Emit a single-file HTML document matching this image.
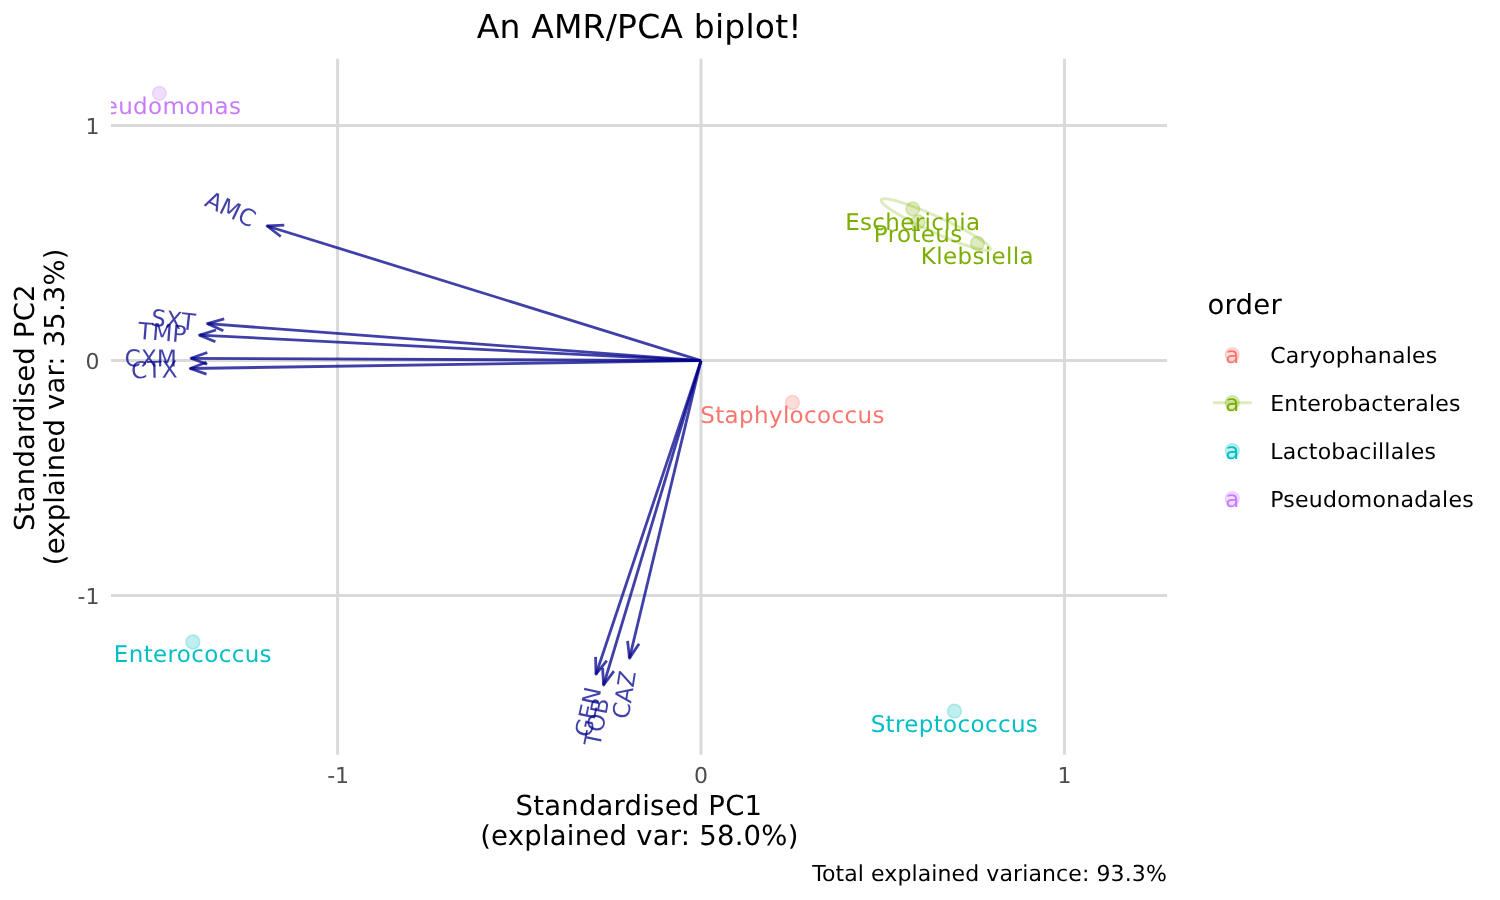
<!DOCTYPE html>
<html lang="en">
<head>
<meta charset="utf-8">
<title>An AMR/PCA biplot!</title>
<style>
html,body{margin:0;padding:0;background:#fff;}
body{width:1500px;height:900px;overflow:hidden;}
svg{display:block;}
text{font-family:"DejaVu Sans","Liberation Sans",sans-serif;text-rendering:geometricPrecision;}
.grid line{stroke:#dadada;stroke-width:3;}
.tick{font-size:22px;fill:#4d4d4d;}
.axt{font-size:27.5px;fill:#000;}
.pts circle{fill-opacity:.25;stroke-opacity:.25;stroke-width:1.5;}
.lab text{font-size:23px;text-anchor:middle;letter-spacing:.35px;}
.arr path{stroke:#00008b;stroke-opacity:.75;stroke-width:2.8;fill:none;stroke-linecap:butt;stroke-linejoin:round;}
.al text{font-size:23.3px;fill:#00008b;fill-opacity:.75;text-anchor:end;}
.leg{font-size:22px;fill:#000;}
</style>
</head>
<body>
<svg width="1500" height="900" viewBox="0 0 1500 900">
<defs><clipPath id="panel"><rect x="111" y="58.8" width="1056" height="696.0"/></clipPath></defs>
<rect width="1500" height="900" fill="#fff"/>
<text x="639.2" y="38" font-size="33" text-anchor="middle" letter-spacing=".19">An AMR/PCA biplot!</text>
<g class="grid">
<line x1="111" x2="1167" y1="125.55" y2="125.55"/>
<line x1="111" x2="1167" y1="360.55" y2="360.55"/>
<line x1="111" x2="1167" y1="595.55" y2="595.55"/>
<line y1="58.8" y2="754.8" x1="337.6" x2="337.6"/>
<line y1="58.8" y2="754.8" x1="701.0" x2="701.0"/>
<line y1="58.8" y2="754.8" x1="1064.5" x2="1064.5"/>
</g>
<g clip-path="url(#panel)">
<g class="pts">
<circle cx="792.5" cy="402.5" r="6.9" fill="#F8766D" stroke="#F8766D"/>
<circle cx="912.8" cy="208.8" r="6.9" fill="#7CAE00" stroke="#7CAE00"/>
<circle cx="918.2" cy="222.0" r="6.9" fill="#7CAE00" stroke="#7CAE00"/>
<circle cx="977.4" cy="243.3" r="6.9" fill="#7CAE00" stroke="#7CAE00"/>
<circle cx="192.9" cy="642.0" r="6.9" fill="#00BFC4" stroke="#00BFC4"/>
<circle cx="954.4" cy="711.2" r="6.9" fill="#00BFC4" stroke="#00BFC4"/>
<circle cx="159.4" cy="93.4" r="6.9" fill="#C77CFF" stroke="#C77CFF"/>
</g>
<ellipse cx="935.8" cy="224.6" rx="60" ry="8" transform="rotate(24.4 935.8 224.6)" fill="none" stroke="#7CAE00" stroke-opacity=".25" stroke-width="3"/>
<g class="lab">
<text x="792.5" y="422.5" fill="#F8766D">Staphylococcus</text>
<text x="912.8" y="230.1" fill="#7CAE00">Escherichia</text>
<text x="918.2" y="242.0" fill="#7CAE00">Proteus</text>
<text x="977.4" y="263.6" fill="#7CAE00">Klebsiella</text>
<text x="192.9" y="661.6" fill="#00BFC4">Enterococcus</text>
<text x="954.4" y="731.5" fill="#00BFC4">Streptococcus</text>
<text x="159.4" y="113.8" fill="#C77CFF">Pseudomonas</text>
</g>
<g class="arr">
<path d="M701.0 360.6L267.1 226.0"/><path d="M284.3 225.2L267.1 226.0L280.8 236.5"/>
<path d="M701.0 360.6L207.5 323.6"/><path d="M224.2 318.9L207.5 323.6L223.3 330.7"/>
<path d="M701.0 360.6L199.5 335.1"/><path d="M216.0 330.0L199.5 335.1L215.4 341.8"/>
<path d="M701.0 360.6L191.0 358.3"/><path d="M207.3 352.5L191.0 358.3L207.2 364.3"/>
<path d="M701.0 360.6L190.2 368.5"/><path d="M206.4 362.3L190.2 368.5L206.5 374.1"/>
<path d="M701.0 360.6L596.0 674.2"/><path d="M595.6 656.9L596.0 674.2L606.8 660.6"/>
<path d="M701.0 360.6L603.6 685.0"/><path d="M602.6 667.8L603.6 685.0L613.9 671.2"/>
<path d="M701.0 360.6L629.5 658.1"/><path d="M627.6 640.9L629.5 658.1L639.1 643.7"/>
</g>
<g class="al">
<text transform="translate(266.1 225.8) rotate(25.6)" x="-13.1" y="8.5">AMC</text>
<text transform="translate(206.5 323.5) rotate(6.6)" x="-11.1" y="8.5">SXT</text>
<text transform="translate(198.5 335.0) rotate(4.5)" x="-12.1" y="8.5">TMP</text>
<text transform="translate(190.0 358.3) rotate(0.4)" x="-13.1" y="8.5">CXM</text>
<text transform="translate(189.2 368.5) rotate(-1.4)" x="-11.6" y="8.5">CTX</text>
<text transform="translate(595.7 675.1) rotate(-77.8)" x="-12.6" y="8.5">GEN</text>
<text transform="translate(603.3 686.0) rotate(-79.0)" x="-12.1" y="8.5">TOB</text>
<text transform="translate(629.3 659.1) rotate(-81.2)" x="-12.0" y="8.5">CAZ</text>
</g>
</g>
<text class="tick" x="99.4" y="133.9" text-anchor="end">1</text>
<text class="tick" x="99.4" y="368.9" text-anchor="end">0</text>
<text class="tick" x="99.4" y="603.9" text-anchor="end">-1</text>
<text class="tick" x="338.1" y="783" text-anchor="middle">-1</text>
<text class="tick" x="701" y="783" text-anchor="middle">0</text>
<text class="tick" x="1064.5" y="783" text-anchor="middle">1</text>
<text class="axt" x="638.9" y="814.7" text-anchor="middle" letter-spacing=".2">Standardised PC1</text>
<text class="axt" x="639.4" y="844.7" text-anchor="middle" letter-spacing=".22">(explained var: 58.0%)</text>
<text class="axt" transform="translate(34.3 407.6) rotate(-90)" text-anchor="middle" letter-spacing=".2">Standardised PC2</text>
<text class="axt" transform="translate(64.3 406.8) rotate(-90)" text-anchor="middle" letter-spacing=".15">(explained var: 35.3%)</text>
<text x="1166.9" y="880.9" font-size="22" text-anchor="end" letter-spacing=".1">Total explained variance: 93.3%</text>
<text class="axt" x="1207.4" y="313.8" letter-spacing=".25">order</text>
<circle cx="1232.3" cy="354.7" r="6.9" fill="#F8766D" stroke="#F8766D" fill-opacity=".25" stroke-opacity=".25" stroke-width="1.5"/>
<text x="1232.3" y="363.0" font-size="22.9" text-anchor="middle" fill="#F8766D">a</text>
<text class="leg" x="1270.2" y="362.9" letter-spacing="0.23">Caryophanales</text>
<line x1="1213" x2="1251.7" y1="402.7" y2="402.7" stroke="#7CAE00" stroke-opacity=".25" stroke-width="3"/>
<circle cx="1232.3" cy="402.7" r="6.9" fill="#7CAE00" stroke="#7CAE00" fill-opacity=".25" stroke-opacity=".25" stroke-width="1.5"/>
<text x="1232.3" y="411.0" font-size="22.9" text-anchor="middle" fill="#7CAE00">a</text>
<text class="leg" x="1270.2" y="410.9" letter-spacing="0.2">Enterobacterales</text>
<circle cx="1232.3" cy="450.7" r="6.9" fill="#00BFC4" stroke="#00BFC4" fill-opacity=".25" stroke-opacity=".25" stroke-width="1.5"/>
<text x="1232.3" y="459.0" font-size="22.9" text-anchor="middle" fill="#00BFC4">a</text>
<text class="leg" x="1270.2" y="458.9" letter-spacing="0.25">Lactobacillales</text>
<circle cx="1232.3" cy="498.7" r="6.9" fill="#C77CFF" stroke="#C77CFF" fill-opacity=".25" stroke-opacity=".25" stroke-width="1.5"/>
<text x="1232.3" y="507.0" font-size="22.9" text-anchor="middle" fill="#C77CFF">a</text>
<text class="leg" x="1270.2" y="506.9" letter-spacing="0.24">Pseudomonadales</text>
</svg>
</body>
</html>
